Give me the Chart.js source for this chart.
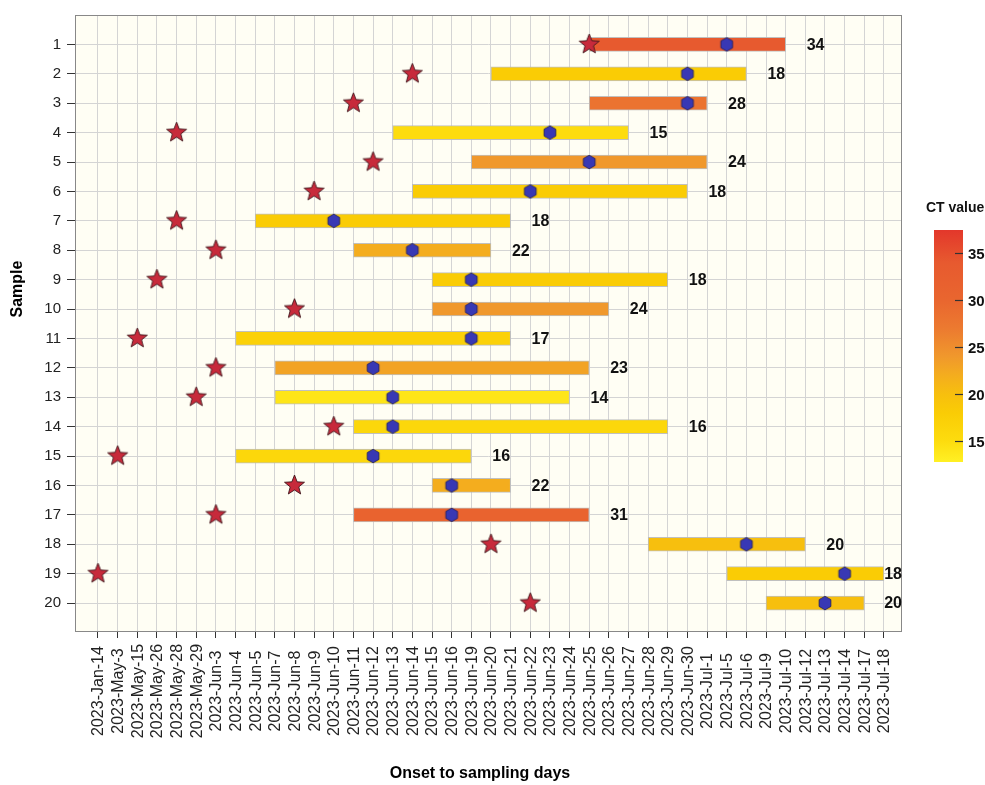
<!DOCTYPE html>
<html lang="en">
<head>
<meta charset="UTF-8">
<title>Onset to sampling days</title>
<script src="https://cdn.jsdelivr.net/npm/chart.js"></script>
<style>
  body { margin: 0; background: #fff; }
  #wrap { width: 985px; height: 785px; }
</style>
</head>
<body>
<div id="wrap"><canvas id="timeline"></canvas></div>
<script>
// x axis: dates in plotting order (categorical, evenly spaced)
const dateLabels = [
  '2023-Jan-14', '2023-May-3', '2023-May-15', '2023-May-26', '2023-May-28', '2023-May-29',
  '2023-Jun-3', '2023-Jun-4', '2023-Jun-5', '2023-Jun-7', '2023-Jun-8', '2023-Jun-9',
  '2023-Jun-10', '2023-Jun-11', '2023-Jun-12', '2023-Jun-13', '2023-Jun-14', '2023-Jun-15',
  '2023-Jun-16', '2023-Jun-19', '2023-Jun-20', '2023-Jun-21', '2023-Jun-22', '2023-Jun-23',
  '2023-Jun-24', '2023-Jun-25', '2023-Jun-26', '2023-Jun-27', '2023-Jun-28', '2023-Jun-29',
  '2023-Jun-30', '2023-Jul-1', '2023-Jul-5', '2023-Jul-6', '2023-Jul-9', '2023-Jul-10',
  '2023-Jul-12', '2023-Jul-13', '2023-Jul-14', '2023-Jul-17', '2023-Jul-18'
];

const samples   = [1, 2, 3, 4, 5, 6, 7, 8, 9, 10, 11, 12, 13, 14, 15, 16, 17, 18, 19, 20];
const onset     = ['Jun-25', 'Jun-14', 'Jun-11', 'May-28', 'Jun-12', 'Jun-9', 'May-28', 'Jun-3', 'May-26', 'Jun-8',
                   'May-15', 'Jun-3', 'May-29', 'Jun-10', 'May-3', 'Jun-8', 'Jun-3', 'Jun-20', 'Jan-14', 'Jun-22'];
const barStart  = ['Jun-25', 'Jun-20', 'Jun-25', 'Jun-13', 'Jun-19', 'Jun-14', 'Jun-5', 'Jun-11', 'Jun-15', 'Jun-15',
                   'Jun-4', 'Jun-7', 'Jun-7', 'Jun-11', 'Jun-4', 'Jun-15', 'Jun-11', 'Jun-28', 'Jul-5', 'Jul-9'];
const barEnd    = ['Jul-10', 'Jul-6', 'Jul-1', 'Jun-27', 'Jul-1', 'Jun-30', 'Jun-21', 'Jun-20', 'Jun-29', 'Jun-26',
                   'Jun-21', 'Jun-25', 'Jun-24', 'Jun-29', 'Jun-19', 'Jun-21', 'Jun-25', 'Jul-12', 'Jul-18', 'Jul-17'];
const sampling  = ['Jul-5', 'Jun-30', 'Jun-30', 'Jun-23', 'Jun-25', 'Jun-22', 'Jun-10', 'Jun-14', 'Jun-19', 'Jun-19',
                   'Jun-19', 'Jun-12', 'Jun-13', 'Jun-13', 'Jun-12', 'Jun-16', 'Jun-16', 'Jul-6', 'Jul-14', 'Jul-13'];
const ctValues  = [34, 18, 28, 15, 24, 18, 18, 22, 18, 24, 17, 23, 14, 16, 16, 22, 31, 20, 18, 20];

// CT colour scale
const ctStops  = [12.75, 15, 18, 20, 22, 24, 27, 30, 34, 37.5];
const ctColors = ['#FFF024', '#FDDC0E', '#FACC05', '#F7BF0E', '#F4AD1E', '#F0982C', '#EC7A30', '#E9662F', '#E75A2F', '#E3372B'];
const legendTicks = [15, 20, 25, 30, 35];

const idx = d => dateLabels.indexOf('2023-' + d);

function hexToRgb(h) {
  const n = parseInt(h.slice(1), 16);
  return [(n >> 16) & 255, (n >> 8) & 255, n & 255];
}
function ctColor(v) {
  let i = 0;
  while (i < ctStops.length - 2 && v > ctStops[i + 1]) i++;
  const t = Math.max(0, Math.min(1, (v - ctStops[i]) / (ctStops[i + 1] - ctStops[i])));
  const a = hexToRgb(ctColors[i]), b = hexToRgb(ctColors[i + 1]);
  const c = a.map((x, k) => Math.round(x + (b[k] - x) * t));
  return `rgb(${c[0]},${c[1]},${c[2]})`;
}

// point glyphs
function makeStar(r, inner) {
  const s = Math.ceil(r * 2 + 4);
  const c = document.createElement('canvas');
  c.width = c.height = s;
  const g = c.getContext('2d');
  g.translate(s / 2, s / 2);
  g.beginPath();
  for (let k = 0; k < 10; k++) {
    const rad = k % 2 ? inner : r;
    const a = -Math.PI / 2 + k * Math.PI / 5;
    g.lineTo(rad * Math.cos(a), rad * Math.sin(a));
  }
  g.closePath();
  g.fillStyle = '#C72A3B';
  g.fill();
  g.lineWidth = 0.9;
  g.strokeStyle = '#3f161c';
  g.stroke();
  return c;
}
function makeHex(r) {
  const s = Math.ceil(r * 2 + 4);
  const c = document.createElement('canvas');
  c.width = c.height = s;
  const g = c.getContext('2d');
  g.translate(s / 2, s / 2);
  g.beginPath();
  for (let k = 0; k < 6; k++) {
    const a = -Math.PI / 2 + k * Math.PI / 3;
    g.lineTo(r * Math.cos(a), r * Math.sin(a));
  }
  g.closePath();
  g.fillStyle = '#3838B4';
  g.fill();
  g.lineWidth = 0.8;
  g.strokeStyle = '#1c1c5a';
  g.stroke();
  return c;
}

const FONT = "'Liberation Sans', Arial, sans-serif";
Chart.defaults.font.family = FONT;
Chart.defaults.color = '#222';

const decorations = {
  id: 'decorations',
  beforeDraw(chart) {
    const {ctx, chartArea: a} = chart;
    ctx.save();
    ctx.fillStyle = '#FFFEF4';
    ctx.fillRect(a.left, a.top, a.right - a.left, a.bottom - a.top);
    ctx.restore();
  },
  afterDraw(chart) {
    const {ctx, chartArea: a, scales} = chart;
    const xs = scales.x, ys = scales.y;
    ctx.save();
    // frame
    ctx.strokeStyle = '#888';
    ctx.lineWidth = 1;
    ctx.strokeRect(a.left + 0.5, a.top + 0.5, a.right - a.left - 1, a.bottom - a.top);

    // CT value labels at the end of each bar
    ctx.font = 'bold 16px ' + FONT;
    ctx.fillStyle = '#111';
    ctx.textAlign = 'left';
    ctx.textBaseline = 'middle';
    samples.forEach((s, i) => {
      const txt = String(ctValues[i]);
      const w = ctx.measureText(txt).width;
      const x = Math.min(xs.getPixelForValue(idx(barEnd[i])) + 21, a.right - w);
      ctx.fillText(txt, x, ys.getPixelForValue(s) + 1);
    });

    // x tick labels, rotated and centred
    ctx.font = '16px ' + FONT;
    ctx.fillStyle = '#222';
    ctx.textAlign = 'center';
    dateLabels.forEach((lab, i) => {
      ctx.save();
      ctx.translate(xs.getPixelForValue(i) + 1, 691);
      ctx.rotate(-Math.PI / 2);
      ctx.fillText(lab, 0, 0);
      ctx.restore();
    });

    // axis titles
    ctx.font = 'bold 16px ' + FONT;
    ctx.fillStyle = '#000';
    ctx.fillText('Onset to sampling days', 480, 774);
    ctx.save();
    ctx.translate(18, 289);
    ctx.rotate(-Math.PI / 2);
    ctx.fillText('Sample', 0, 0);
    ctx.restore();

    // colour bar legend
    const lx = 934, lw = 29, top = 230, bot = 462;
    const vmin = ctStops[0], vmax = ctStops[ctStops.length - 1];
    const vy = v => bot - (v - vmin) / (vmax - vmin) * (bot - top);
    const grad = ctx.createLinearGradient(0, bot, 0, top);
    ctStops.forEach((v, i) => grad.addColorStop((v - vmin) / (vmax - vmin), ctColors[i]));
    ctx.fillStyle = grad;
    ctx.fillRect(lx, top, lw, bot - top);
    ctx.strokeStyle = '#333';
    ctx.lineWidth = 1.2;
    ctx.font = 'bold 15px ' + FONT;
    ctx.fillStyle = '#111';
    ctx.textAlign = 'left';
    legendTicks.forEach(v => {
      const y = Math.round(vy(v)) + 0.5;
      ctx.beginPath();
      ctx.moveTo(lx + lw - 8, y);
      ctx.lineTo(lx + lw, y);
      ctx.stroke();
      ctx.fillText(String(v), lx + lw + 5, y + 1);
    });
    ctx.font = 'bold 14px ' + FONT;
    ctx.fillText('CT value', 926, 208);
    ctx.restore();
  }
};

new Chart(document.getElementById('timeline'), {
  type: 'bar',
  data: {
    datasets: [
      {
        type: 'scatter',
        label: 'Sampling',
        data: samples.map((s, i) => ({x: idx(sampling[i]), y: s})),
        pointStyle: makeHex(6.8),
        pointRadius: 7,
        order: 0
      },
      {
        type: 'scatter',
        label: 'Onset',
        data: samples.map((s, i) => ({x: idx(onset[i]), y: s})),
        pointStyle: makeStar(10.5, 4.5),
        pointRadius: 10,
        order: 1
      },
      {
        label: 'Onset to sampling',
        data: samples.map((s, i) => ({y: s, x: [idx(barStart[i]), idx(barEnd[i])]})),
        backgroundColor: ctValues.map(ctColor),
        borderColor: 'rgba(185,185,185,0.9)',
        borderWidth: 1,
        borderSkipped: false,
        barThickness: 14,
        order: 2
      }
    ]
  },
  options: {
    indexAxis: 'y',
    responsive: true,
    maintainAspectRatio: false,
    animation: false,
    layout: { padding: { top: 14, right: 83, left: 0, bottom: 0 } },
    plugins: {
      legend: { display: false },
      tooltip: { enabled: false }
    },
    scales: {
      x: {
        type: 'linear',
        min: -1.17,
        max: 40.92,
        offset: false,
        afterBuildTicks: s => { s.ticks = dateLabels.map((_, i) => ({value: i})); },
        afterFit: s => { s.height = 154; },
        ticks: { display: false },
        grid: { color: '#D4D4D4', tickColor: '#333', tickLength: 7, offset: false },
        border: { display: false }
      },
      y: {
        type: 'linear',
        reverse: true,
        min: 0,
        max: 20.95,
        offset: false,
        afterBuildTicks: s => { s.ticks = samples.map(v => ({value: v})); },
        afterFit: s => { s.width = 75; },
        ticks: { font: { size: 15 }, color: '#222', padding: 6 },
        grid: { color: '#D4D4D4', tickColor: '#333', tickLength: 8, offset: false },
        border: { display: false }
      }
    }
  },
  plugins: [decorations]
});
</script>
</body>
</html>
